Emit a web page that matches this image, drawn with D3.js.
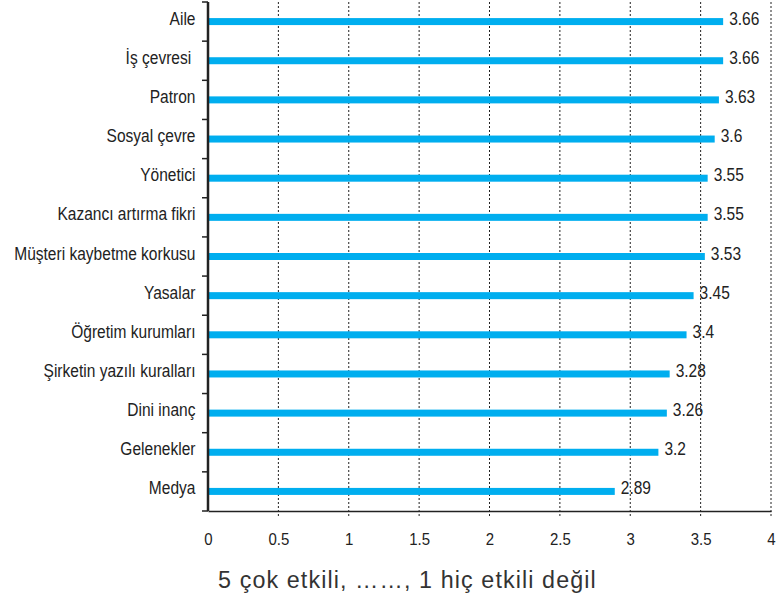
<!DOCTYPE html>
<html>
<head>
<meta charset="utf-8">
<script src="https://cdn.jsdelivr.net/npm/d3@7"></script>
<style>
  html, body { margin: 0; padding: 0; background: #fff; }
  svg { display: block; }
</style>
</head>
<body>
<svg id="chart" width="778" height="599"></svg>
<script>
const categories = ["Aile", "İş çevresi ", "Patron", "Sosyal çevre", "Yönetici", "Kazancı artırma fikri",
  "Müşteri kaybetme korkusu", "Yasalar", "Öğretim kurumları", "Şirketin yazılı kuralları",
  "Dini inanç", "Gelenekler", "Medya"];
const values = [3.66, 3.66, 3.63, 3.6, 3.55, 3.55, 3.53, 3.45, 3.4, 3.28, 3.26, 3.2, 2.89];
const xTicks = [0, 0.5, 1, 1.5, 2, 2.5, 3, 3.5, 4];
const xTitle = "5 çok etkili, ……, 1 hiç etkili değil";

const font = "'Liberation Sans', Arial, Helvetica, sans-serif";
const narrowScale = 0.84;   // condensed look for the chart labels
const svg = d3.select("#chart");
const m = { left: 208, right: 771, top: 2, bottom: 511 };

const x = d3.scaleLinear().domain([0, 4]).range([m.left, m.right]);
const y = d3.scaleBand().domain(categories).range([m.top, m.bottom]);
const mid = c => y(c) + y.bandwidth() / 2;

// dotted vertical grid lines
svg.append("g").selectAll("line").data(xTicks.filter(d => d > 0)).join("line")
  .attr("x1", d => x(d)).attr("x2", d => x(d))
  .attr("y1", m.top).attr("y2", m.bottom + 6)
  .attr("stroke", "#222").attr("stroke-width", 1).attr("stroke-dasharray", "2,2");

// bars
const barH = 7;
svg.append("g").selectAll("rect").data(values).join("rect")
  .attr("x", x(0))
  .attr("y", (d, i) => mid(categories[i]) - barH / 2)
  .attr("width", d => x(d) - x(0))
  .attr("height", barH)
  .attr("fill", "#00AEEF");

// value labels
svg.append("g").selectAll("text").data(values).join("text")
  .attr("transform", (d, i) => `translate(${x(d) + 6},${mid(categories[i]) + 3}) scale(${narrowScale},1)`)
  .attr("font-family", font).attr("font-size", 18.5).attr("fill", "#222")
  .text(d => d);

// x axis
const xAxis = svg.append("g").attr("transform", `translate(0,${m.bottom})`)
  .call(d3.axisBottom(x).tickValues(xTicks).tickSize(0).tickPadding(0).tickFormat(d3.format("")));
xAxis.select(".domain").attr("stroke", "#222").attr("stroke-width", 1.5);
xAxis.selectAll(".tick text")
  .attr("y", 0).attr("dy", 0)
  .attr("transform", "translate(0,34) scale(0.92,1)")
  .attr("font-family", font).attr("font-size", 16.3).attr("fill", "#222");

// y axis with ticks on band boundaries
svg.append("line").attr("x1", m.left).attr("x2", m.left).attr("y1", m.top).attr("y2", m.bottom)
  .attr("stroke", "#222").attr("stroke-width", 2.5);
const bounds = categories.map(c => y(c)).concat([m.bottom]);
svg.append("g").selectAll("line").data(bounds).join("line")
  .attr("x1", m.left - 6).attr("x2", m.left)
  .attr("y1", d => d).attr("y2", d => d)
  .attr("stroke", "#222").attr("stroke-width", 1.5);

svg.append("g").selectAll("text").data(categories).join("text")
  .attr("transform", d => `translate(195.5,${mid(d) + 3}) scale(${narrowScale},1)`)
  .attr("text-anchor", "end")
  .attr("xml:space", "preserve")
  .style("white-space", "pre")
  .attr("font-family", font).attr("font-size", 18.5).attr("fill", "#222")
  .text(d => d);

// axis title
svg.append("text")
  .attr("x", 218).attr("y", 588)
  .attr("letter-spacing", 1.1)
  .attr("font-family", font).attr("font-size", 23.3).attr("fill", "#333")
  .text(xTitle);
</script>
</body>
</html>
